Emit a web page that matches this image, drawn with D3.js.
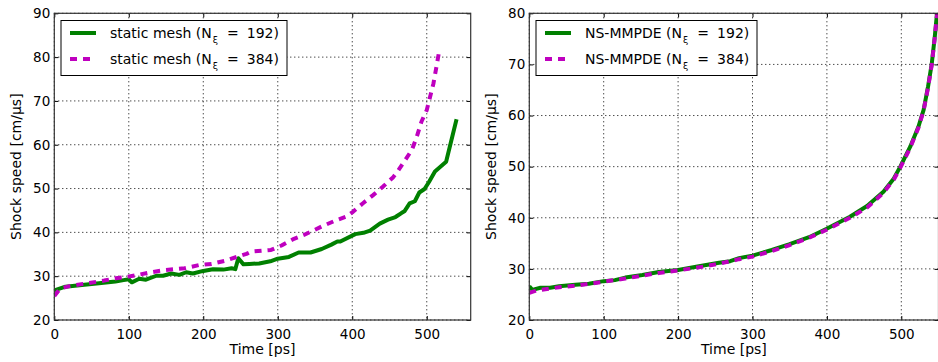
<!DOCTYPE html>
<html>
<head>
<meta charset="utf-8">
<script src="https://cdn.jsdelivr.net/npm/d3@7"></script>
<style>
  body { margin: 0; background: #fff; }
  svg { display: block; font-family: "DejaVu Sans", sans-serif; }
</style>
</head>
<body>
<script>
// static mesh, N = 192
const staticT192 = [0, 1, 15, 37, 60, 82, 93, 100, 104, 114, 123, 137, 146, 157, 168, 177, 186, 200, 213, 227, 238, 243, 247, 254, 262, 275, 290, 300, 315, 328, 344, 359, 372, 380, 384, 404, 415, 424, 437, 448, 458, 466, 470, 477, 484, 490, 497, 503, 511, 526, 540];
const staticV192 = [26.3, 26.8, 27.6, 28.0, 28.4, 28.8, 29.1, 29.3, 28.6, 29.4, 29.2, 30.1, 30.1, 30.6, 30.3, 30.9, 30.6, 31.2, 31.6, 31.5, 31.8, 31.6, 34.1, 32.7, 32.8, 32.9, 33.4, 34.0, 34.4, 35.4, 35.4, 36.2, 37.2, 37.9, 37.9, 39.6, 39.9, 40.4, 42.0, 42.9, 43.5, 44.4, 44.8, 46.6, 47.1, 49.1, 49.9, 51.5, 53.9, 56.1, 65.8];
// static mesh, N = 384
const staticT384 = [0, 8, 22, 45, 67, 85, 99, 115, 130, 148, 175, 196, 211, 229, 247, 258, 264, 291, 305, 320, 335, 361, 379, 392, 401, 414, 428, 441, 455, 462, 471, 480, 486, 493, 500, 504, 509, 513, 516];
const staticV384 = [25.5, 27.2, 27.8, 28.4, 29.0, 29.6, 29.9, 30.4, 30.9, 31.4, 31.8, 32.6, 32.8, 33.5, 34.5, 35.1, 35.6, 36.0, 37.0, 38.4, 39.4, 41.5, 42.8, 43.6, 44.7, 46.6, 48.5, 50.4, 52.6, 54.2, 56.5, 58.8, 61.5, 65.3, 67.9, 70.6, 74.0, 77.8, 80.7];
// NS-MMPDE, N = 192
const nsT192 = [0, 4, 15, 28, 40, 62, 80, 100, 115, 129, 152, 174, 200, 228, 255, 270, 282, 300, 326, 349, 376, 399, 431, 454, 476, 490, 499, 512, 523, 530, 536, 541, 545, 548, 552];
const nsV192 = [26.6, 25.9, 26.3, 26.3, 26.6, 26.9, 27.1, 27.6, 27.8, 28.3, 28.8, 29.4, 29.8, 30.5, 31.2, 31.5, 32.1, 32.6, 33.7, 34.8, 36.2, 37.8, 40.2, 42.3, 45.1, 47.7, 50.1, 53.9, 57.8, 61.1, 65.7, 70.2, 75.4, 80.0, 85.0];
// NS-MMPDE, N = 384
const nsT384 = [0, 10, 40, 62, 100, 129, 152, 174, 200, 228, 255, 282, 300, 326, 349, 376, 399, 431, 454, 476, 490, 499, 512, 523, 530, 536, 541, 545, 548, 552];
const nsV384 = [25.3, 25.8, 26.4, 26.7, 27.5, 28.1, 28.7, 29.2, 29.7, 30.3, 31.0, 31.9, 32.4, 33.5, 34.6, 36.1, 37.6, 40.0, 42.0, 44.9, 47.5, 49.9, 53.7, 57.6, 61.0, 65.5, 70.0, 75.2, 79.8, 85.0];

const xTicks = [0, 100, 200, 300, 400, 500];
const yTicksLeft = [20, 30, 40, 50, 60, 70, 80, 90];
const yTicksRight = [20, 30, 40, 50, 60, 70, 80];

const W = 938, H = 362;
const green = "#008000", magenta = "#bf00bf";

const svg = d3.select("body").append("svg")
    .attr("width", W).attr("height", H);

function zip(ts, vs) { return ts.map((t, i) => [t, vs[i]]); }

function panel(opt) {
    const x = d3.scaleLinear().domain(opt.xDomain).range([opt.left, opt.right]);
    const y = d3.scaleLinear().domain(opt.yDomain).range([opt.bottom, opt.top]);
    const g = svg.append("g");

    const clipId = "clip" + opt.id;
    svg.append("clipPath").attr("id", clipId)
      .append("rect")
        .attr("x", opt.left).attr("y", opt.top)
        .attr("width", opt.right - opt.left).attr("height", opt.bottom - opt.top);

    // grid
    g.append("g").selectAll("line").data(xTicks).enter().append("line")
        .attr("x1", d => x(d)).attr("x2", d => x(d))
        .attr("y1", opt.top).attr("y2", opt.bottom)
        .attr("stroke", "#000").attr("stroke-width", 1).attr("stroke-dasharray", "1,3");
    g.append("g").selectAll("line").data(opt.yTicks).enter().append("line")
        .attr("x1", opt.left).attr("x2", opt.right)
        .attr("y1", d => y(d)).attr("y2", d => y(d))
        .attr("stroke", "#000").attr("stroke-width", 1).attr("stroke-dasharray", "1,3");

    // lines
    const line = d3.line().x(d => x(d[0])).y(d => y(d[1]));
    const lines = g.append("g").attr("clip-path", `url(#${clipId})`);
    opt.series.forEach(s => {
        lines.append("path")
            .datum(zip(s.t, s.v))
            .attr("d", line)
            .attr("fill", "none")
            .attr("stroke", s.color)
            .attr("stroke-width", 4)
            .attr("stroke-linejoin", "round")
            .attr("stroke-dasharray", s.dash ? "7,6" : null);
    });

    // axes: ticks inside, mirrored top/right
    const tickLen = 4;
    const axB = g.append("g").attr("transform", `translate(0,${opt.bottom})`)
        .call(d3.axisBottom(x).tickValues(xTicks).tickSizeInner(-tickLen).tickSizeOuter(0).tickPadding(9));
    const axT = g.append("g").attr("transform", `translate(0,${opt.top})`)
        .call(d3.axisTop(x).tickValues(xTicks).tickSizeInner(-tickLen).tickSizeOuter(0).tickFormat(""));
    const axL = g.append("g").attr("transform", `translate(${opt.left},0)`)
        .call(d3.axisLeft(y).tickValues(opt.yTicks).tickSizeInner(-tickLen).tickSizeOuter(0).tickPadding(4));
    const axR = g.append("g").attr("transform", `translate(${opt.right},0)`)
        .call(d3.axisRight(y).tickValues(opt.yTicks).tickSizeInner(-tickLen).tickSizeOuter(0).tickFormat(""));
    [axB, axT, axL, axR].forEach(a => {
        a.select(".domain").remove();
        a.selectAll("line").attr("stroke", "#000").attr("stroke-width", 1);
        a.selectAll("text").attr("fill", "#000").style("font-size", "13.5px")
            .style("font-family", "'DejaVu Sans', sans-serif");
    });

    g.append("rect")
        .attr("x", opt.left).attr("y", opt.top)
        .attr("width", opt.right - opt.left).attr("height", opt.bottom - opt.top)
        .attr("fill", "none").attr("stroke", "#333").attr("stroke-width", 1.2);

    // axis labels
    g.append("text")
        .attr("x", (opt.left + opt.right) / 2).attr("y", 354)
        .attr("text-anchor", "middle").style("font-size", "14px")
        .text("Time [ps]");
    g.append("text")
        .attr("transform", `translate(${opt.left - 33},${(opt.top + opt.bottom) / 2}) rotate(-90)`)
        .attr("text-anchor", "middle").style("font-size", "14px")
        .text("Shock speed [cm/\u03bcs]");

    // legend
    const lg = g.append("g").attr("transform", `translate(${opt.legX},20.5)`);
    lg.append("rect").attr("width", opt.legW).attr("height", 55)
        .attr("fill", "#fff").attr("stroke", "#000").attr("stroke-width", 1);
    opt.series.forEach((s, i) => {
        const yy = 12.5 + i * 26;
        lg.append("line")
            .attr("x1", 9).attr("x2", 35).attr("y1", yy).attr("y2", yy)
            .attr("stroke", s.color).attr("stroke-width", 4)
            .attr("stroke-dasharray", s.dash ? "7,6" : null);
        const tx = lg.append("text").attr("x", opt.textX).attr("y", yy + 5)
            .style("font-size", "14px").style("font-family", "'DejaVu Sans', sans-serif");
        tx.append("tspan").text(opt.label + " (N");
        tx.append("tspan").attr("dx", 1).attr("dy", 5).style("font-size", "9.5px").text("\u03be");
        tx.append("tspan").attr("dx", 9).attr("dy", -5).text("=");
        tx.append("tspan").attr("dx", 8).text(s.n + ")");
    });
}

panel({
    id: "L", left: 54.3, right: 470.7, top: 13.3, bottom: 320,
    xDomain: [0, 559], yDomain: [20, 90], yTicks: yTicksLeft,
    legX: 61, legW: 226, textX: 49, label: "static mesh",
    series: [
        { t: staticT192, v: staticV192, color: green, dash: false, n: 192 },
        { t: staticT384, v: staticV384, color: magenta, dash: true, n: 384 }
    ]
});

panel({
    id: "R", left: 529.3, right: 938.5, top: 13.3, bottom: 320,
    xDomain: [0, 550], yDomain: [20, 80], yTicks: yTicksRight,
    legX: 536, legW: 221, textX: 49, label: "NS-MMPDE",
    series: [
        { t: nsT192, v: nsV192, color: green, dash: false, n: 192 },
        { t: nsT384, v: nsV384, color: magenta, dash: true, n: 384 }
    ]
});
</script>
</body>
</html>
